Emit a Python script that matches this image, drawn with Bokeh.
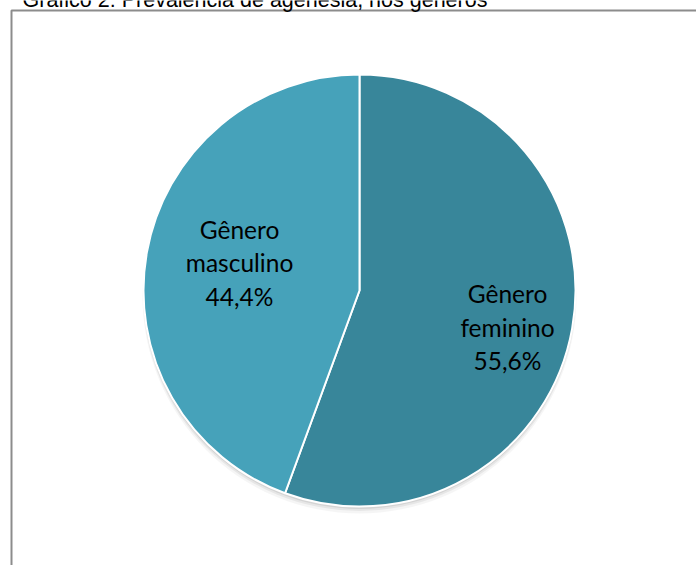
import math
from bokeh.plotting import figure
from bokeh.models import Range1d, ColumnDataSource
from bokeh.core.properties import value
from bokeh.embed import file_html
from bokeh.resources import INLINE

# ---- data ----
title_text = "Gráfico 2: Prevalência de agenesia, nos gêneros"
categories = ["Gênero\nfeminino", "Gênero\nmasculino"]
shares = [55.6, 44.4]
pct_labels = ["55,6%", "44,4%"]
colors = ["#38869A", "#46A2BA"]

W, H = 696, 565
CX, CY, R = 359, H - 290, 216
# label placement (style): radial fraction and angular offset (degrees)
label_frac = [0.706, 0.570]
label_dang = [-3.85, -2.9]

p = figure(width=W, height=H, output_backend="svg", toolbar_location=None,
           x_range=Range1d(0, W), y_range=Range1d(0, H), min_border=0)
p.axis.visible = False
p.grid.visible = False
p.outline_line_color = None
p.background_fill_color = "white"

# frame
p.line(x=[11, 11, W + 5], y=[-5, H - 10, H - 10], line_color="#8C8C8C", line_width=2)

# title (partly cut off at top, as in the original)
p.text(x=[22], y=[H - 7], text=[title_text], text_font=value("Liberation Sans"),
       text_font_size="21.5px", text_color="black", text_baseline="alphabetic",
       y_offset=-8)

# angles
total = sum(shares)
starts, ends, mids = [], [], []
acc = 0.0
for s in shares:
    a0 = math.pi / 2 - 2 * math.pi * acc / total
    acc += s
    a1 = math.pi / 2 - 2 * math.pi * acc / total
    starts.append(a1)
    ends.append(a0)
    mids.append((a0 + a1) / 2)

# shadow
for off, alpha, rr in [(6, 0.04, 1), (4, 0.06, 0.5), (2.5, 0.08, 0)]:
    p.circle(x=[CX], y=[CY - off], radius=R + rr, fill_color="black", fill_alpha=alpha,
             line_color=None)

src = ColumnDataSource(dict(start=starts, end=ends, color=colors))
p.wedge(x=CX, y=CY, radius=R, start_angle="start", end_angle="end",
        fill_color="color", line_color="white", line_width=2, source=src)

angs = [m + math.radians(d) for m, d in zip(mids, label_dang)]
lx = [CX + f * R * math.cos(a) for f, a in zip(label_frac, angs)]
ly = [CY + f * R * math.sin(a) for f, a in zip(label_frac, angs)]
texts = [c + "\n" + v for c, v in zip(categories, pct_labels)]
p.text(x=lx, y=ly, text=texts, text_font=value("Lato"), text_font_size="24.5px",
       text_color="black", text_align="center", text_baseline="middle",
       text_line_height=1.15)

open("out.html", "w").write(file_html(p, INLINE))
